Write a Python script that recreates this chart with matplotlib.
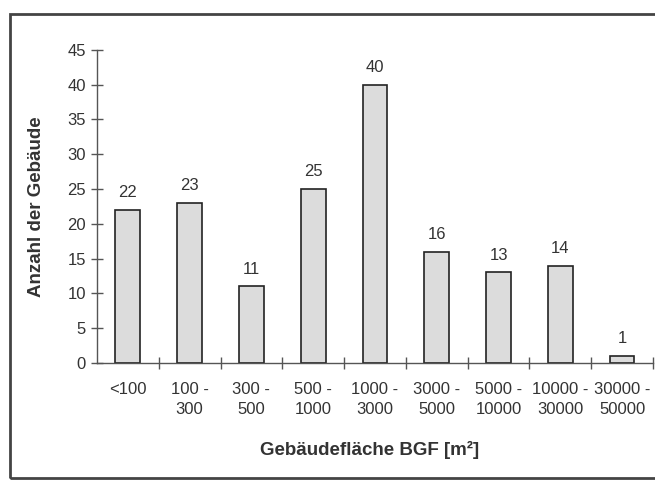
import matplotlib
matplotlib.use("Agg")
import matplotlib.pyplot as plt
from matplotlib.patches import Rectangle

# Daten aus der Vorlage
klassen = ["<100", "100 -\n300", "300 -\n500", "500 -\n1000", "1000 -\n3000",
           "3000 -\n5000", "5000 -\n10000", "10000 -\n30000", "30000 -\n50000"]
anzahl = [22, 23, 11, 25, 40, 16, 13, 14, 1]
y_ticks = [0, 5, 10, 15, 20, 25, 30, 35, 40, 45]

plt.rcParams["font.family"] = ["Liberation Sans", "DejaVu Sans"]
textfarbe = "#333333"

fig = plt.figure(figsize=(6.55, 4.80), dpi=100)
ax = fig.add_axes([0.148, 0.244, 0.849, 0.652])

# Rahmen um die ganze Grafik
fig.patches.append(Rectangle((10 / 655, 2 / 480), 1.2, 464 / 480, transform=fig.transFigure,
                             fill=False, edgecolor="#444444", linewidth=2.0, clip_on=False))

pos = list(range(len(klassen)))
ax.bar(pos, anzahl, width=0.4, color="#dcdcdc", edgecolor="#222222", linewidth=1.2)

for x, v in zip(pos, anzahl):
    ax.annotate(str(v), (x, v), xytext=(0, 7), textcoords="offset points",
                ha="center", va="bottom", fontsize=12, color=textfarbe)

ax.set_xlim(-0.5, len(klassen) - 0.5)
ax.set_ylim(0, 45)
ax.set_yticks(y_ticks)
ax.set_xticks([p + 0.5 for p in pos])
ax.set_xticklabels([])
ax.set_xticks(pos, minor=True)
ax.set_xticklabels(klassen, minor=True, fontsize=12, color=textfarbe, linespacing=1.4)
ax.tick_params(axis="x", which="minor", length=0, pad=14)
ax.tick_params(axis="x", which="major", direction="inout", length=8, width=1, color="#555555")
ax.tick_params(axis="y", direction="inout", length=8, width=1, color="#555555",
               labelsize=12, labelcolor=textfarbe, pad=4)

for s in ["top", "right"]:
    ax.spines[s].set_visible(False)
for s in ["left", "bottom"]:
    ax.spines[s].set_color("#555555")
    ax.spines[s].set_linewidth(1.0)

ax.set_ylabel("Anzahl der Gebäude", fontsize=13.5, fontweight="bold", color=textfarbe)
ax.set_xlabel("Gebäudefläche BGF [m²]", fontsize=13.5, fontweight="bold", color=textfarbe)
ax.xaxis.set_label_coords(0.49, -0.278)
ax.yaxis.set_label_coords(-0.108, 0.5)
ax.xaxis.label.set_va("center")
ax.yaxis.label.set_va("center")

fig.savefig("out.png", dpi=100)
